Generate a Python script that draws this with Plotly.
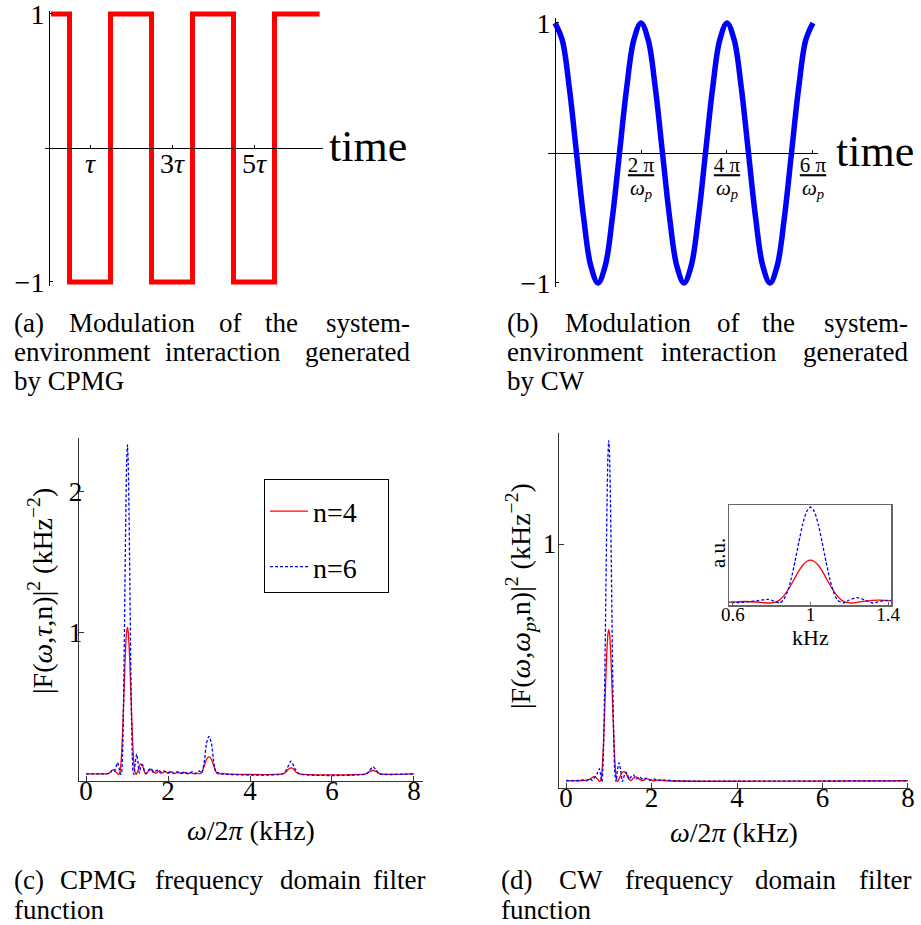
import plotly.graph_objects as go

# ---------------- data ----------------
# (a) CPMG modulation, time in units of tau
cpmg_t = [0.05, 0.5, 0.5, 1.5, 1.5, 2.5, 2.5, 3.5, 3.5, 4.5, 4.5, 5.5, 5.5, 6.6]
cpmg_mod = [1, 1, -1, -1, 1, 1, -1, -1, 1, 1, -1, -1, 1, 1]
cpmg_tickvals = [1, 3, 5]
cpmg_ticktext = ["<i>τ</i>", "3<i>τ</i>", "5<i>τ</i>"]

# (b) CW modulation, time in units of (2π/ω_p)/12
cw_t = [0, 1, 2, 3, 4, 5, 6, 7, 8, 9, 10, 11, 12, 13, 14, 15, 16, 17, 18,
        19, 20, 21, 22, 23, 24, 25, 26, 27, 28, 29, 30, 31, 32, 33, 34, 35, 36]
cw_mod = [1, 0.87, 0.5, 0, -0.5, -0.87, -1, -0.87, -0.5, 0, 0.5, 0.87,
          1, 0.87, 0.5, 0, -0.5, -0.87, -1, -0.87, -0.5, 0, 0.5, 0.87,
          1, 0.87, 0.5, 0, -0.5, -0.87, -1, -0.87, -0.5, 0, 0.5, 0.87, 1]
cw_tickvals = [12, 24, 36]
cw_tick_num = ["<u>2 π</u>", "<u>4 π</u>", "<u>6 π</u>"]
cw_tick_den = "<i>ω</i><sub><i>p</i></sub>"

# (c) CPMG filter function (kHz^-2) vs frequency (kHz)
cpmg4_f = [0.0, 0.5, 0.58, 0.64, 0.68, 0.74, 0.80, 0.83, 0.85, 0.87, 0.89, 0.91, 0.93, 0.95,
           0.97, 0.99, 1.01, 1.03, 1.05, 1.07, 1.09, 1.11, 1.13, 1.15, 1.17, 1.19, 1.22,
           1.27, 1.33, 1.38, 1.43, 1.47, 1.53, 1.6, 1.66, 1.72, 1.79, 1.86, 1.93, 2.0,
           2.08, 2.16, 2.24, 2.32, 2.4, 2.48, 2.56, 2.64, 2.72, 2.78, 2.84, 2.9, 2.95,
           3.0, 3.05, 3.1, 3.16, 3.22, 3.3, 3.4, 4.8, 4.88, 4.94, 5.0, 5.06, 5.12, 5.2,
           6.82, 6.9, 7.0, 7.1, 7.18, 8.0]
cpmg4_F = [0.005, 0.005, 0.012, 0.03, 0.032, 0.015, 0.0, 0.02, 0.07, 0.159, 0.286, 0.442,
           0.613, 0.778, 0.917, 1.007, 1.04, 1.007, 0.917, 0.778, 0.613, 0.442, 0.286,
           0.159, 0.07, 0.02, 0.0, 0.03, 0.075, 0.06, 0.015, 0.005, 0.025, 0.038, 0.015,
           0.01, 0.028, 0.01, 0.022, 0.008, 0.02, 0.006, 0.016, 0.006, 0.014, 0.005,
           0.013, 0.004, 0.01, 0.004, 0.025, 0.075, 0.112, 0.125, 0.112, 0.075, 0.025,
           0.004, 0.008, 0.004, 0.004, 0.018, 0.038, 0.047, 0.038, 0.018, 0.004,
           0.004, 0.018, 0.03, 0.018, 0.004, 0.004]
cpmg6_f = [0.0, 0.5, 0.58, 0.64, 0.68, 0.72, 0.77, 0.81, 0.85, 0.87, 0.89, 0.91, 0.93, 0.95,
           0.97, 0.99, 1.01, 1.03, 1.05, 1.07, 1.09, 1.11, 1.13, 1.15, 1.17, 1.20, 1.235,
           1.27, 1.30, 1.34, 1.38, 1.42, 1.46, 1.52, 1.58, 1.64, 1.7, 1.76, 1.82, 1.9,
           1.98, 2.06, 2.14, 2.22, 2.3, 2.4, 2.5, 2.6, 2.7, 2.76, 2.82, 2.88, 2.94, 3.0,
           3.06, 3.12, 3.18, 3.24, 3.3, 4.8, 4.9, 5.0, 5.1, 5.2, 6.85, 6.92, 7.0, 7.08,
           7.15, 8.0]
cpmg6_F = [0.005, 0.005, 0.01, 0.03, 0.02, 0.04, 0.085, 0.04, 0.0, 0.012, 0.127, 0.398,
           0.821, 1.334, 1.834, 2.196, 2.33, 2.196, 1.834, 1.334, 0.821, 0.398, 0.127,
           0.012, 0.0, 0.08, 0.145, 0.08, 0.01, 0.055, 0.07, 0.03, 0.005, 0.03, 0.04,
           0.015, 0.025, 0.03, 0.01, 0.025, 0.01, 0.02, 0.008, 0.02, 0.008, 0.018, 0.006,
           0.02, 0.005, 0.025, 0.01, 0.08, 0.22, 0.27, 0.22, 0.08, 0.01, 0.015, 0.005,
           0.005, 0.04, 0.095, 0.04, 0.005, 0.005, 0.03, 0.055, 0.03, 0.005, 0.005]

# (d) CW filter function (kHz^-2) vs frequency (kHz)
cw4_f = [0.0, 0.3, 0.45, 0.55, 0.62, 0.66, 0.72, 0.79, 0.82, 0.84, 0.86, 0.88, 0.90, 0.92,
         0.94, 0.96, 0.98, 1.00, 1.02, 1.04, 1.06, 1.08, 1.10, 1.12, 1.14, 1.16, 1.18,
         1.21, 1.26, 1.32, 1.36, 1.42, 1.47, 1.52, 1.58, 1.64, 1.72, 1.8, 1.88, 1.96,
         2.05, 2.15, 2.3, 8.0]
cw4_F = [0.004, 0.004, 0.006, 0.01, 0.018, 0.022, 0.015, 0.0, 0.012, 0.043, 0.098, 0.176,
         0.272, 0.377, 0.479, 0.564, 0.620, 0.640, 0.620, 0.564, 0.479, 0.377, 0.272,
         0.176, 0.098, 0.043, 0.012, 0.0, 0.02, 0.04, 0.042, 0.03, 0.01, 0.005, 0.015,
         0.02, 0.01, 0.005, 0.012, 0.01, 0.004, 0.008, 0.004, 0.004]
cw6_f = [0.0, 0.3, 0.40, 0.48, 0.55, 0.62, 0.68, 0.73, 0.78, 0.81, 0.84, 0.86, 0.88, 0.90,
         0.92, 0.94, 0.96, 0.98, 1.00, 1.02, 1.04, 1.06, 1.08, 1.10, 1.12, 1.14, 1.17,
         1.20, 1.24, 1.28, 1.32, 1.36, 1.40, 1.44, 1.48, 1.52, 1.58, 1.64, 1.72, 1.8,
         1.88, 1.96, 2.05, 2.15, 2.3, 2.5, 8.0]
cw6_F = [0.005, 0.005, 0.008, 0.004, 0.012, 0.005, 0.02, 0.035, 0.055, 0.03, 0.0, 0.042,
         0.157, 0.354, 0.617, 0.910, 1.178, 1.366, 1.435, 1.366, 1.178, 0.910, 0.617,
         0.354, 0.157, 0.042, 0.0, 0.045, 0.08, 0.045, 0.0, 0.025, 0.04, 0.03, 0.01,
         0.02, 0.03, 0.012, 0.02, 0.01, 0.015, 0.006, 0.012, 0.005, 0.008, 0.004, 0.004]

freq_tickvals = [0, 2, 4, 6, 8]
inset_tickvals = [0.6, 1, 1.4]
inset_ticktext = ["0.6", "1", "1.4"]

# ---------------- layout helpers ----------------
W, H = 921, 925
SERIF = "Liberation Serif, Times New Roman, Times, DejaVu Serif, serif"


def fx(p):
    return p / W


def fy(p):
    return 1 - p / H


RED = "#ff0000"
BLUE = "#0000ff"

fig = go.Figure()

fig.add_trace(go.Scatter(x=cpmg_t, y=cpmg_mod, mode="lines", xaxis="x", yaxis="y",
                         line=dict(color=RED, width=5), showlegend=False, hoverinfo="skip"))
fig.add_trace(go.Scatter(x=cw_t, y=cw_mod, mode="lines", xaxis="x2", yaxis="y2",
                         line=dict(color=BLUE, width=5.5, shape="spline"),
                         showlegend=False, hoverinfo="skip"))

PAD = "\u00a0\u00a0\u00a0\u2006"
fig.add_trace(go.Scatter(x=cpmg4_f, y=cpmg4_F, mode="lines", xaxis="x3", yaxis="y3",
                         name="n=4" + PAD, legendgroup="a",
                         line=dict(color=RED, width=1.3, shape="spline", smoothing=0.6)))
fig.add_trace(go.Scatter(x=cpmg6_f, y=cpmg6_F, mode="lines", xaxis="x3", yaxis="y3",
                         name="n=6" + PAD, legendgroup="b",
                         line=dict(color=BLUE, width=1.3, dash="3px,2px", shape="spline",
                                   smoothing=0.6)))

for xa, ya in (("x4", "y4"), ("x5", "y5")):
    fig.add_trace(go.Scatter(x=cw4_f, y=cw4_F, mode="lines", xaxis=xa, yaxis=ya,
                             line=dict(color=RED, width=1.3, shape="spline", smoothing=0.6),
                             showlegend=False, hoverinfo="skip"))
    fig.add_trace(go.Scatter(x=cw6_f, y=cw6_F, mode="lines", xaxis=xa, yaxis=ya,
                             line=dict(color=BLUE, width=1.3, dash="3px,2px",
                                       shape="spline", smoothing=0.6),
                             showlegend=False, hoverinfo="skip"))

common = dict(showgrid=False, zeroline=False, showline=True, ticks="inside",
              automargin=False, ticklabeloverflow="allow")

layout = dict(
    width=W, height=H,
    margin=dict(l=0, r=0, t=0, b=0, pad=0, autoexpand=False),
    paper_bgcolor="white", plot_bgcolor="white",
    font=dict(family=SERIF, color="black"),
    showlegend=True,
    legend=dict(x=fx(264), y=fy(479), xanchor="left", yanchor="top",
                bordercolor="black", borderwidth=1, bgcolor="white",
                font=dict(family=SERIF, size=28), tracegroupgap=16, itemwidth=38,
                title=dict(text="\u00a0", font=dict(size=5))),
    # (a)
    xaxis=dict(common, domain=[fx(45), fx(323)], range=[-0.0976, 6.683],
               anchor="free", position=fy(148), linecolor="black", linewidth=1,
               tickvals=cpmg_tickvals, ticktext=cpmg_ticktext, ticklen=3,
               tickcolor="black", tickfont=dict(family=SERIF, size=28),
               ticklabelstandoff=-10),
    yaxis=dict(common, domain=[fy(286), fy(11)], range=[-1.03, 1.022],
               anchor="free", position=fx(49), linecolor="black", linewidth=1,
               tickvals=[-1, 1], ticktext=["−1", "1"], ticklen=3, tickcolor="black",
               tickfont=dict(family=SERIF, size=28), ticklabelstandoff=-1),
    # (b)
    xaxis2=dict(common, domain=[fx(548), fx(818)], range=[-0.977, 36.70],
                anchor="free", position=fy(153), linecolor="black", linewidth=1,
                tickvals=cw_tickvals, ticktext=cw_tick_num, ticklen=3,
                tickcolor="black", tickfont=dict(family=SERIF, size=21),
                ticklabelstandoff=-7),
    yaxis2=dict(common, domain=[fy(287), fy(18)], range=[-1.031, 1.038],
                anchor="free", position=fx(555), linecolor="black", linewidth=1,
                tickvals=[-1, 1], ticktext=["−1", "1"], ticklen=3, tickcolor="black",
                tickfont=dict(family=SERIF, size=28), ticklabelstandoff=-1),
    # (c)
    xaxis3=dict(common, domain=[fx(79), fx(423)], range=[-0.171, 8.22], anchor="y3",
                linecolor="#333", linewidth=1.3, tickvals=freq_tickvals, ticklen=5,
                tickcolor="#333", tickfont=dict(family=SERIF, size=27),
                ticklabelstandoff=-15),
    yaxis3=dict(common, domain=[fy(781), fy(438)], range=[-0.046, 2.378], anchor="x3",
                linecolor="#333", linewidth=1.3, tickvals=[1, 2], ticklen=5,
                tickcolor="#333", tickfont=dict(family=SERIF, size=27),
                ticklabelstandoff=-10),
    # (d)
    xaxis4=dict(common, domain=[fx(559), fx(910)], range=[-0.164, 8.047], anchor="y4",
                linecolor="#333", linewidth=1.3, tickvals=freq_tickvals, ticklen=5,
                tickcolor="#333", tickfont=dict(family=SERIF, size=27),
                ticklabelstandoff=-15),
    yaxis4=dict(common, domain=[fy(788), fy(433)], range=[-0.0265, 1.467], anchor="x4",
                linecolor="#333", linewidth=1.3, tickvals=[1], ticklen=5,
                tickcolor="#333", tickfont=dict(family=SERIF, size=27),
                ticklabelstandoff=-4),
    # inset
    xaxis5=dict(common, domain=[fx(729), fx(891)], range=[0.58, 1.415], anchor="y5",
                mirror=True, linecolor="#666", linewidth=1.5, tickvals=inset_tickvals,
                ticktext=inset_ticktext, ticklen=3, tickcolor="#666",
                tickfont=dict(family=SERIF, size=19), ticklabelstandoff=-8),
    yaxis5=dict(common, domain=[fy(605), fy(505)], range=[-0.03, 1.465], anchor="x5",
                mirror=True, linecolor="#666", linewidth=1.5, showticklabels=False,
                ticks=""),
)

ann = []


def text(x, y, s, size, xanchor="center", yanchor="middle", angle=0):
    ann.append(dict(x=fx(x), y=fy(y), xref="paper", yref="paper", text=s,
                    showarrow=False, xanchor=xanchor, yanchor=yanchor, textangle=angle,
                    font=dict(family=SERIF, size=size, color="black")))


# denominators of the (b) tick fractions, tied to the x2 axis scale
for tv in cw_tickvals:
    ann.append(dict(x=tv, y=fy(189), xref="x2", yref="paper", text=cw_tick_den,
                    showarrow=False, xanchor="center", yanchor="middle",
                    font=dict(family=SERIF, size=21, color="black")))

text(327, 147, "time", 44, xanchor="left")
text(834, 151, "time", 44, xanchor="left")
text(40, 591, "|F(<i>ω</i>,<i>τ</i>,n)|<sup>2</sup> (kHz<sup>−2</sup>)", 28, angle=-90)
text(520, 596, "|F(<i>ω</i>,<i>ω</i><sub><i>p</i></sub>,n)|<sup>2</sup> (kHz<sup>−2</sup>)",
     28, angle=-90)
text(251, 830, "<i>ω</i>/2<i>π</i> (kHz)", 28)
text(734, 832, "<i>ω</i>/2<i>π</i> (kHz)", 28)
text(718, 553, "a.u.", 21, angle=-90)
text(810, 637, "kHz", 22)

caption_lines = [
    (323, [("(a)", 12, "left"), ("Modulation", 67, "left"), ("of", 217, "left"),
           ("the", 263, "left"), ("system-", 412, "right")]),
    (352, [("environment", 12, "left"), ("interaction", 163, "left"),
           ("generated", 412, "right")]),
    (381, [("by CPMG", 12, "left")]),
    (323, [("(b)", 505, "left"), ("Modulation", 563, "left"), ("of", 715, "left"),
           ("the", 760, "left"), ("system-", 910, "right")]),
    (352, [("environment", 505, "left"), ("interaction", 659, "left"),
           ("generated", 910, "right")]),
    (381, [("by CW", 505, "left")]),
    (880, [("(c)", 12, "left"), ("CPMG", 58, "left"), ("frequency", 153, "left"),
           ("domain", 278, "left"), ("filter", 427, "right")]),
    (910, [("function", 12, "left")]),
    (880, [("(d)", 499, "left"), ("CW", 557, "left"), ("frequency", 623, "left"),
           ("domain", 753, "left"), ("filter", 913, "right")]),
    (910, [("function", 499, "left")]),
]
for y, words in caption_lines:
    for w, x, anc in words:
        text(x, y, w, 27, xanchor=anc)

layout["annotations"] = ann
fig.update_layout(**layout)
fig.write_html("out.html",
               config={"displayModeBar": False, "staticPlot": True},
               post_script="document.body.style.margin='0px';"
                           "document.body.style.overflow='hidden';")
